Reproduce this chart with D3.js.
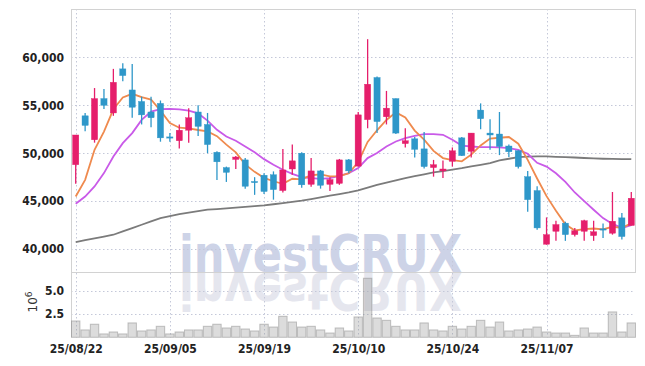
<!DOCTYPE html>
<html><head><meta charset="utf-8">
<script src="https://cdn.jsdelivr.net/npm/d3@7"></script>
<style>
html,body{margin:0;padding:0;background:#fff;}
svg{display:block;}
.tk{font-family:"DejaVu Sans Condensed","DejaVu Sans",sans-serif;font-stretch:condensed;font-weight:bold;font-size:12px;fill:#222;}
</style></head>
<body>
<svg id="c" width="645" height="366"></svg>
<script>
const dates = ["25/08/22","25/08/25","25/08/26","25/08/27","25/08/28","25/08/29","25/09/01","25/09/02","25/09/03","25/09/04",
"25/09/05","25/09/08","25/09/09","25/09/10","25/09/11","25/09/12","25/09/15","25/09/16","25/09/17","25/09/18",
"25/09/19","25/09/22","25/09/23","25/09/24","25/09/25","25/09/26","25/09/29","25/09/30","25/10/01","25/10/02",
"25/10/10","25/10/13","25/10/14","25/10/15","25/10/16","25/10/17","25/10/20","25/10/21","25/10/22","25/10/23",
"25/10/24","25/10/27","25/10/28","25/10/29","25/10/30","25/10/31","25/11/03","25/11/04","25/11/05","25/11/06",
"25/11/07","25/11/10","25/11/11","25/11/12","25/11/13","25/11/14","25/11/17","25/11/18","25/11/19","25/11/20"];
const open  = [48800,53900,51400,55700,54200,58800,56600,55400,54300,55200,51700,51300,52400,54300,53000,50100,48500,49350,49300,47050,
47700,47750,46100,48350,50000,46750,48150,46750,46850,49300,48650,53500,57900,53800,55700,51000,51500,50450,48500,48150,
49150,51600,50200,54500,52100,52000,50750,50250,47550,46100,40500,41850,42700,41500,41850,41400,42100,41650,43250,42450];
const high  = [51900,54200,56800,56700,58800,59400,59300,55900,55900,55500,52100,53000,54700,55000,54200,50200,48600,49700,49500,47500,
47900,48100,50450,50900,50100,49500,48250,47500,49400,49400,54300,61900,58000,56500,55700,52600,51700,52200,49300,49250,
50600,51700,52100,55200,53550,54300,50900,50300,48150,46550,43300,42950,42850,42200,43050,42950,42650,45950,43750,45950];
const low   = [46800,52300,51100,54600,53900,57500,53700,53000,52700,51200,51200,50500,51100,51800,50000,47200,47000,48350,46300,45650,
45750,45150,45900,47750,46400,46500,46300,46050,46700,47900,48600,52600,52100,53000,52000,50600,49550,48400,47550,47400,
48600,49700,49550,52500,50350,49800,49600,48400,43900,42000,40450,40850,40850,41300,40850,40850,41150,41500,41000,42450];
const close = [51900,52900,55700,55000,57400,58100,54800,54000,53700,51600,51600,52400,53700,52800,50900,49100,48000,49600,46550,47000,
46000,46200,48250,49200,46700,48150,46650,47250,49300,48150,54000,57200,53300,54700,52100,51300,50400,48600,48800,48350,
50250,49750,52100,53600,51900,50700,50150,48600,45150,42200,41500,42550,41500,41900,42950,41800,42050,42900,41300,45300];
const volume = [1.75,0.79,1.40,0.36,0.57,0.36,1.54,0.68,0.79,1.18,0.36,0.57,0.79,0.79,1.18,1.40,1.00,1.18,0.89,0.68,
1.40,1.10,2.25,1.64,1.10,1.18,0.79,0.46,1.00,0.68,2.18,6.33,2.07,1.82,1.18,0.79,0.79,1.54,0.79,0.68,
1.18,0.89,1.18,1.82,1.10,1.64,0.68,0.79,0.89,1.10,0.57,0.46,0.46,0.21,1.00,0.46,0.46,2.72,0.57,1.54];
const ma5 = [45480,47220,50350,52260,54580,55820,56200,55860,55600,54440,53140,52660,52600,52420,52280,51780,50900,50080,48830,48050,
47430,47070,46800,47330,47270,47700,47790,47590,47610,47900,49070,51180,52390,53470,54260,53720,52360,51420,50240,49490,
49280,49150,49850,50810,51520,51610,51690,50990,49300,47360,45520,44000,42580,41930,42080,42140,42040,42320,42200,42670];
const ma20 = [44720,45480,46530,47920,49650,51050,52100,53480,54350,54600,54630,54580,54450,54150,53400,52440,51740,51300,50700,50100,
49380,48790,48270,47850,47500,47400,47330,47400,47640,47920,48450,49490,50010,50700,51220,51570,51810,51990,51990,51920,
51400,50800,50700,50640,50630,50600,50530,50350,49940,49000,48600,47900,47000,45900,45000,44100,43230,42620,42200,42480];
const ma60 = [40730,40920,41110,41300,41490,41830,42180,42530,42880,43230,43440,43650,43800,43950,44100,44170,44250,44320,44400,44470,
44550,44670,44790,44910,45040,45210,45380,45560,45730,45900,46110,46400,46700,46930,47170,47400,47600,47800,47990,48140,
48290,48440,48620,48790,48970,49240,49420,49590,49650,49660,49660,49620,49590,49550,49500,49460,49420,49400,49390,49380];
const priceTicks = [40000,45000,50000,55000,60000];
const volTicks = [2.5,5.0];
const dateTicks = ["25/08/22","25/09/05","25/09/19","25/10/10","25/10/24","25/11/07"];

const svg = d3.select("#c");
const L=71, R=636, T=9, MID=272, B=337.3;
const idx = d3.range(dates.length);
const x = d3.scaleBand().domain(idx).range([L,R]).padding(0);
const cx = i => x(i) + x.bandwidth()/2;
const y = d3.scaleLinear().domain([37600,65050]).range([MID,T]);
const yv = d3.scaleLinear().domain([0,7]).range([B,MID]);

// watermark (with reflection, clipped to the volume panel)
svg.append("defs").append("clipPath").attr("id","volclip").append("rect")
  .attr("x",L).attr("y",MID).attr("width",R-L).attr("height",B-MID);
const wm = svg.append("g");
const wmStyle = t => t.style("font-family","'DejaVu Sans',sans-serif").style("font-weight","bold").style("font-size","51px")
  .attr("textLength",283).attr("lengthAdjust","spacingAndGlyphs");
wm.append("text").attr("x",179).attr("y",MID).attr("fill","#cdd3e7").text("investCRUX").call(wmStyle);
wm.append("g").attr("clip-path","url(#volclip)").append("text").attr("x",179).attr("y",MID)
  .attr("transform",`translate(0,${2*MID+1}) scale(1,-1)`).attr("fill","#e5e6ee").text("investCRUX").call(wmStyle);

// grid
const grid = svg.append("g").attr("stroke","#c4c8d9").attr("stroke-width",1).attr("stroke-dasharray","1.5,2.5");
priceTicks.forEach(v=>grid.append("line").attr("x1",L).attr("x2",R-1).attr("y1",Math.round(y(v))+0.5).attr("y2",Math.round(y(v))+0.5));
volTicks.forEach(v=>grid.append("line").attr("x1",L).attr("x2",R-1).attr("y1",Math.round(yv(v))+0.5).attr("y2",Math.round(yv(v))+0.5));
dateTicks.forEach(d=>{const i=dates.indexOf(d);const xx=Math.round(cx(i))+0.5;
  grid.append("line").attr("x1",xx).attr("x2",xx).attr("y1",T).attr("y2",B);});

// frame
const fr = svg.append("g").attr("stroke","#d2d2d2").attr("stroke-width",1).attr("fill","none");
fr.append("line").attr("x1",L+0.5).attr("x2",L+0.5).attr("y1",T).attr("y2",B);
fr.append("line").attr("x1",R-0.5).attr("x2",R-0.5).attr("y1",T).attr("y2",MID);
fr.append("line").attr("x1",L).attr("x2",R).attr("y1",T+0.5).attr("y2",T+0.5);
fr.append("line").attr("x1",L).attr("x2",R).attr("y1",MID+0.5).attr("y2",MID+0.5);

// volume bars
svg.append("g").selectAll("rect").data(idx).join("rect")
  .attr("x",i=>x(i)+0.5).attr("width",x.bandwidth()-1)
  .attr("y",i=>yv(volume[i])).attr("height",i=>B-yv(volume[i]))
  .attr("fill","rgba(150,150,150,0.33)").attr("stroke","rgba(140,140,140,0.5)").attr("stroke-width",1);

// MA lines
const line = arr => d3.line().x((d,i)=>cx(i)).y(d=>y(d))(arr);
svg.append("path").attr("d",line(ma60)).attr("fill","none").attr("stroke","#7b7b7b").attr("stroke-width",1.8);
svg.append("path").attr("d",line(ma20)).attr("fill","none").attr("stroke","#c95ae8").attr("stroke-width",1.8);
svg.append("path").attr("d",line(ma5)).attr("fill","none").attr("stroke","#ef8a4e").attr("stroke-width",1.8);

// candles
const UP="#e51e6b", DN="#2e97c9";
const cg = svg.append("g");
idx.forEach(i=>{
  const col = close[i]>open[i]?UP:DN;
  cg.append("line").attr("x1",cx(i)).attr("x2",cx(i)).attr("y1",y(high[i])).attr("y2",y(low[i]))
    .attr("stroke",col).attr("stroke-width",1.3);
  const top=y(Math.max(open[i],close[i])), bot=y(Math.min(open[i],close[i]));
  const bw=6.2;
  cg.append("rect").attr("x",cx(i)-bw/2).attr("width",bw).attr("y",top).attr("height",Math.max(1.2,bot-top))
    .attr("fill",col).attr("stroke",col).attr("stroke-width",0.4);
});

// axes labels
const ya = d3.axisLeft(y).tickValues(priceTicks).tickFormat(d3.format(",")).tickSize(0).tickPadding(7);
svg.append("g").attr("transform",`translate(${L},0)`).call(ya).call(g=>g.select(".domain").remove())
  .selectAll("text").attr("class","tk");
const yva = d3.axisLeft(yv).tickValues(volTicks).tickFormat(d3.format(".1f")).tickSize(0).tickPadding(7);
svg.append("g").attr("transform",`translate(${L},0)`).call(yva).call(g=>g.select(".domain").remove())
  .selectAll("text").attr("class","tk");
const xa = d3.axisBottom(d3.scalePoint().domain(dates).range([cx(0),cx(dates.length-1)]))
  .tickValues(dateTicks).tickSize(0).tickPadding(7);
svg.append("g").attr("transform",`translate(0,${B})`).call(xa).call(g=>g.select(".domain").remove())
  .selectAll("text").attr("class","tk");

// volume unit label
const ul = svg.append("text").attr("transform","translate(37,302) rotate(-90)").attr("text-anchor","middle")
  .style("font-family","'DejaVu Sans',sans-serif").style("font-size","12px").attr("fill","#333");
ul.append("tspan").text("10");
ul.append("tspan").attr("dy",-5).style("font-size","9px").text("6");
</script>
</body></html>
